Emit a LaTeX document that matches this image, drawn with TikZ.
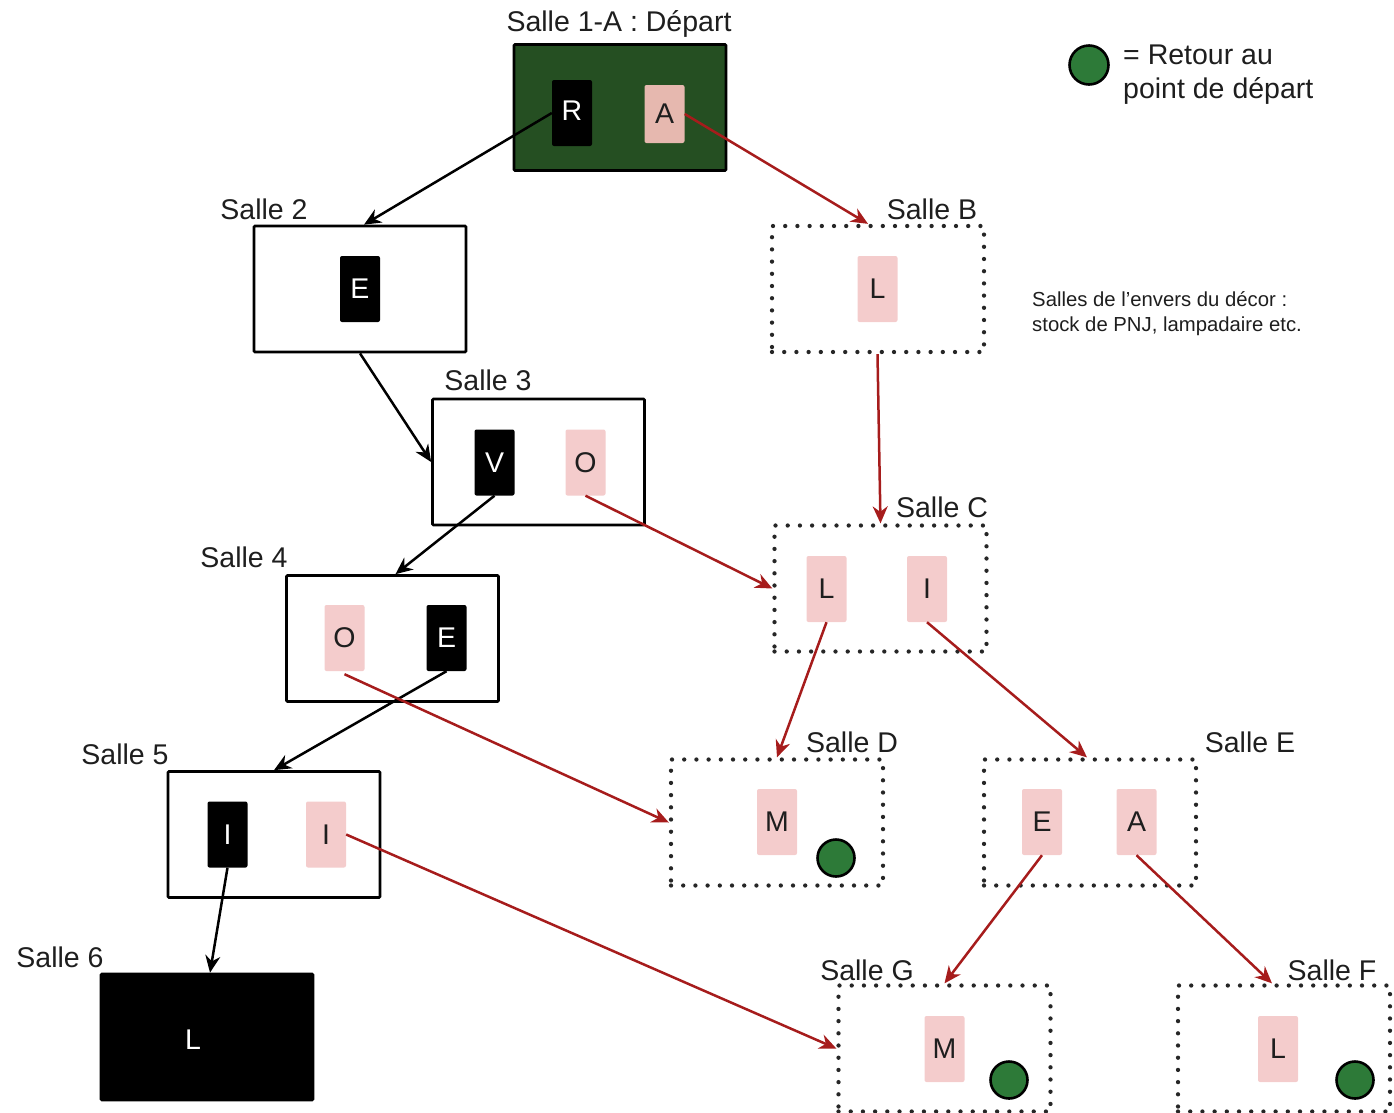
\documentclass[tikz,border=0pt]{standalone}
\usepackage{fontspec}
\setmainfont{Liberation Sans}[Ligatures=ResetAll]
\usetikzlibrary{arrows.meta}
\definecolor{startgreen}{RGB}{37,79,34}
\definecolor{goalc}{RGB}{45,122,56}
\definecolor{pinkc}{RGB}{244,204,204}
\definecolor{salmonc}{RGB}{230,184,175}
\definecolor{redc}{RGB}{166,28,28}
\definecolor{textc}{RGB}{30,30,30}
\newcommand{\bigtxt}{\fontsize{28.5}{34}\selectfont}
\newcommand{\smalltxt}{\fontsize{20.3}{25}\selectfont}
\tikzset{
  room/.style={draw=black, line width=2.7pt, fill=white, minimum width=212pt, minimum height=126pt, inner sep=0pt, rounded corners=1pt},
  backroom/.style={draw=black!85, line width=4.3pt, dash pattern=on 0pt off 12.2pt, line cap=round, minimum width=212pt, minimum height=126pt, inner sep=0pt},
  card/.style={minimum width=40pt, minimum height=66pt, inner sep=0pt, rounded corners=2pt, font=\bigtxt},
  bcard/.style={card, fill=black, text=white},
  pcard/.style={card, fill=pinkc, text=textc},
  lbl/.style={font=\bigtxt, text=textc, inner sep=0pt},
  goal/.style={circle, draw=black, line width=2.6pt, fill=goalc, minimum size=37pt, inner sep=0pt},
  blkarr/.style={draw=black, line width=2.5pt, -{Stealth[length=17pt,width=15pt]}},
  redarr/.style={draw=redc, line width=2.5pt, -{Stealth[length=17pt,width=15pt]}}
}
\begin{document}
\begin{tikzpicture}[x=1pt,y=-1pt]
\useasboundingbox (0,0) rectangle (1394,1112);
% rooms
\node[room, fill=startgreen] (s1) at (620,107.5) {};
\node[room] (s2) at (360,289) {};
\node[room] (s3) at (538.5,462) {};
\node[room] (s4) at (392.5,638.5) {};
\node[room] (s5) at (274,834.5) {};
\node[room, fill=black] (s6) at (207,1037) {};
\node[backroom] (sB) at (878,289) {};
\node[backroom] (sC) at (880.5,588.5) {};
\node[backroom] (sD) at (777,822.5) {};
\node[backroom] (sE) at (1090,822.5) {};
\node[backroom] (sG) at (944.5,1048.5) {};
\node[backroom] (sF) at (1284,1048.5) {};
% labels
\node[lbl] (l1) at (619,24) {Salle 1-A : Départ};
\node[lbl] (l2) at (264,209) {Salle 2};
\node[lbl] (l3) at (488,380) {Salle 3};
\node[lbl] (l4) at (244,557) {Salle 4};
\node[lbl] (l5) at (125,754) {Salle 5};
\node[lbl] (l6) at (60,957) {Salle 6};
\node[lbl] (lB) at (932,209) {Salle B};
\node[lbl] (lC) at (942,507) {Salle C};
\node[lbl] (lD) at (852,742) {Salle D};
\node[lbl] (lE) at (1250,742) {Salle E};
\node[lbl] (lG) at (867,970) {Salle G};
\node[lbl] (lF) at (1332,970) {Salle F};
% cards
\node[bcard] (R1) at (572,113) {\raisebox{4pt}{R}};
\node[card, fill=salmonc, text=textc, minimum height=58pt] (A1) at (664.5,114) {A};
\node[bcard] (E2) at (360,289) {E};
\node[bcard] (V3) at (494.5,462.5) {V};
\node[pcard] (O3) at (585.5,462.5) {O};
\node[pcard] (O4) at (344.5,638) {O};
\node[bcard] (E4) at (446.5,638) {E};
\node[bcard] (I5) at (227.5,834.5) {I};
\node[pcard] (I5p) at (326,834.5) {I};
\node[lbl, text=white] (L6) at (193,1040) {L};
\node[pcard] (LB) at (877.5,289) {L};
\node[pcard] (LC) at (826.5,589) {L};
\node[pcard] (IC) at (927,589) {I};
\node[pcard] (MD) at (777,822) {M};
\node[pcard] (EE) at (1042,822) {E};
\node[pcard] (AE) at (1136.5,822) {A};
\node[pcard] (MG) at (944.5,1049) {M};
\node[pcard] (LF) at (1278,1049) {L};
% goal markers
\node[goal] (gD) at (836,858) {};
\node[goal] (gG) at (1009,1080) {};
\node[goal] (gF) at (1355,1080) {};
% legend
\node[goal, minimum size=39pt] (gL) at (1089,65) {};
\node[lbl, anchor=west, align=left] (legend) at (1123,75) {= Retour au\\point de départ};
\node[anchor=west, align=left, font=\smalltxt, text=textc, inner sep=0pt] (note) at (1032,313.5) {Salles de l'envers du décor :\\stock de PNJ, lampadaire etc.};
% black connectors
\draw[blkarr] (R1.west) -- ([xshift=4pt]s2.north);
\draw[blkarr] (s2.south) -- (s3.west);
\draw[blkarr] (V3.south) -- ([xshift=3pt]s4.north);
\draw[blkarr] (E4.south) -- (s5.north);
\draw[blkarr] (I5.south) -- ([xshift=3pt]s6.north);
% red connectors
\draw[redarr] (A1.east) -- ([xshift=-10pt]sB.north);
\draw[redarr] (LB.south |- sB.south) -- (sC.north);
\draw[redarr] (O3.south) -- (sC.west);
\draw[redarr] (LC.south) -- (sD.north);
\draw[redarr] (IC.south) -- ([xshift=-3pt]sE.north);
\draw[redarr] ([yshift=-3pt]O4.south) -- (sD.west);
\draw[redarr] (I5p.east) -- (sG.west);
\draw[redarr] (EE.south) -- (sG.north);
\draw[redarr] (AE.south) -- ([xshift=-12pt]sF.north);
\end{tikzpicture}
\end{document}
